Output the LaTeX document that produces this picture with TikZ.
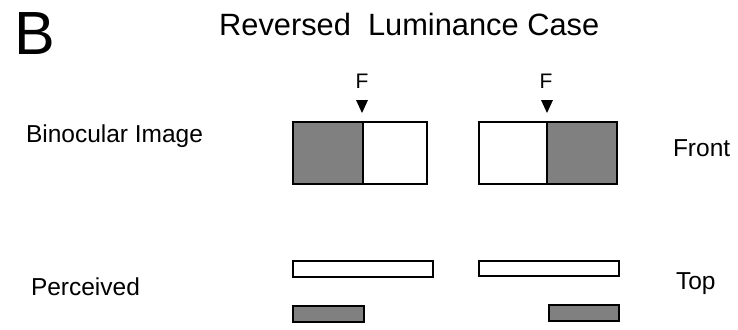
\documentclass[tikz,border=0pt]{standalone}
\usepackage{fontspec}
\setmainfont{Liberation Sans}
\begin{document}
\begin{tikzpicture}[x=1pt,y=-1pt,
  lbl/.style={inner sep=0pt,outer sep=0pt,anchor=base west,font=\fontsize{24.5}{28}\selectfont},
  flbl/.style={inner sep=0pt,outer sep=0pt,anchor=base,font=\fontsize{21}{24}\selectfont},
  shade/.style={fill=black!50,draw=black,line width=1.8pt},
  clear/.style={fill=white,draw=black,line width=1.8pt},
  mark tri/.style={fill=black}]
\useasboundingbox (0,0) rectangle (738,329);
% headings
\node[inner sep=0pt,anchor=base west,font=\fontsize{61}{68}\selectfont] (B) at (14,55) {B};
\node[inner sep=0pt,anchor=base west,font=\fontsize{30.8}{34}\selectfont] (title) at (219,36) {Reversed\ \ Luminance Case};
% row labels
\node[lbl] (bino) at (26,142) {Binocular Image};
\node[lbl] (perc) at (31,295) {Perceived};
\node[lbl] (front) at (673,156) {Front};
\node[lbl] (top) at (676,289) {Top};
% F labels and markers
\node[flbl] (F1) at (362,88) {F};
\node[flbl] (F2) at (546,88) {F};
\fill[mark tri] (356,100) -- (368,100) -- (362,113) -- cycle;
\fill[mark tri] (541,100) -- (553,100) -- (547,113) -- cycle;
% binocular image boxes
\draw[shade] (293,122) rectangle (363,184);
\draw[clear] (363,122) rectangle (427,184);
\draw[clear] (479,122) rectangle (547,184);
\draw[shade] (547,122) rectangle (617,184);
% perceived (top view)
\draw[clear] (293,261) rectangle (433,277);
\draw[clear] (479,261) rectangle (619,276);
\draw[shade] (293,306) rectangle (364,322);
\draw[shade] (549,305) rectangle (619,321);
\end{tikzpicture}
\end{document}
